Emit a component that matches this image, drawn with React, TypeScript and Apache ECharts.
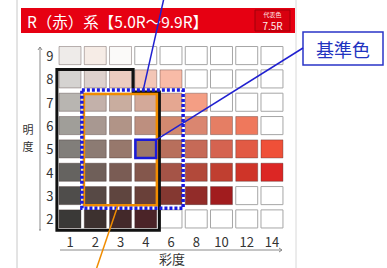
import React, { useEffect, useRef } from "react";
import * as echarts from "echarts";

// 彩度 (chroma) categories along x, 明度 (value) categories along y (bottom → top)
const CHROMA = ["1", "2", "3", "4", "6", "8", "10", "12", "14"];
const VALUE = ["2", "3", "4", "5", "6", "7", "8", "9"];

// Cell colours for each value row (columns follow CHROMA); null = empty cell
const ROW_9 = ["#eeebe9", "#f6ece6", "#fbfaf9", null, null, null, null, null, null];
const ROW_8 = ["#d5d3d1", "#ddd1cd", "#ecccc0", "#f3c6b6", "#f8bba7", null, null, null, null];
const ROW_7 = ["#b8b5b1", "#c3b1aa", "#c9ad9f", "#d3a999", "#e5a791", "#f49e84", null, null, null];
const ROW_6 = ["#a09e99", "#a89891", "#b19487", "#bd8f7f", "#d2896f", "#da8670", "#e57e64", "#ef785c", null];
const ROW_5 = ["#817e7a", "#8c7b73", "#97786c", "#9d7868", "#b86f5c", "#c66a57", "#d56350", "#e25a44", "#ef5038"];
const ROW_4 = ["#656360", "#6f5f59", "#7a5c54", "#84574c", "#a55447", "#b2493a", "#c03f30", "#cf3428", "#dc2624"];
const ROW_3 = ["#4f4d4b", "#574945", "#5f453f", "#694039", "#843831", "#922c29", "#a11c1e", null, null];
const ROW_2 = ["#3a3937", "#3d312f", "#43292a", "#4b2428", null, null, null, null, null];
const ROWS: Record<string, (string | null)[]> = {
  "2": ROW_2, "3": ROW_3, "4": ROW_4, "5": ROW_5,
  "6": ROW_6, "7": ROW_7, "8": ROW_8, "9": ROW_9,
};

// Base colour (基準色) cell
const BASE_CELL = { chroma: "4", value: "5" };

const TITLE = "R（赤）系【5.0R～9.9R】";
const BADGE_SMALL = "代表色";
const BADGE_HUE = "7.5R";
const CALLOUT = "基準色";
const X_NAME = "彩度";
const Y_NAME = ["明", "度"];

const FONT = "'Noto Sans CJK JP', 'Noto Sans', sans-serif";

export default function App() {
  const ref = useRef<HTMLDivElement>(null);

  useEffect(() => {
    if (!ref.current) return;
    const chart = echarts.init(ref.current, null, { renderer: "svg" });

    const cellData: number[][] = [];
    const cellColors: (string | null)[] = [];
    VALUE.forEach((v, yi) => {
      CHROMA.forEach((c, xi) => {
        cellData.push([xi, yi]);
        cellColors.push(ROWS[v][xi]);
      });
    });

    const cx = (c: string) => CHROMA.indexOf(c);
    const vy = (v: string) => VALUE.indexOf(v);

    const option: any = {
      animation: false,
      backgroundColor: "#ffffff",
      textStyle: { fontFamily: FONT },
      grid: { left: 57.4, top: 43.9, width: 227.2, height: 186.7, containLabel: false },
      xAxis: {
        type: "category",
        data: CHROMA,
        axisLine: { show: false },
        axisTick: { show: false },
        splitLine: { show: false },
        axisLabel: { margin: 4, fontSize: 13, lineHeight: 13, color: "#333", fontFamily: FONT },
      },
      yAxis: {
        type: "category",
        data: VALUE,
        axisLine: { show: false },
        axisTick: { show: false },
        splitLine: { show: false },
        axisLabel: { margin: 4, fontSize: 13, lineHeight: 13, color: "#333", fontFamily: FONT },
      },
      series: [
        {
          type: "custom",
          name: "cells",
          data: cellData,
          z: 2,
          renderItem: (params: any, api: any) => {
            const p = api.coord([api.value(0), api.value(1)]);
            const s = api.size([1, 1]);
            const w = s[0] * 0.87;
            const h = s[1] * 0.775;
            const col = cellColors[params.dataIndex];
            return {
              type: "rect",
              shape: { x: p[0] - w / 2, y: p[1] - h / 2, width: w, height: h },
              style: {
                fill: col ?? "#ffffff",
                stroke: col ? "rgba(60,40,40,0.35)" : "#a6a6a6",
                lineWidth: 1,
              },
            };
          },
        },
        {
          type: "custom",
          name: "annotations",
          data: [[0, 0]],
          z: 5,
          renderItem: (_params: any, api: any) => {
            const o = api.coord([0, 0]);
            const s = api.size([1, 1]);
            const px = (f: number) => o[0] + f * s[0];
            const py = (f: number) => o[1] - f * s[1];

            // black stepped frame (chroma 1–4, value 2–8)
            const black = [
              [px(cx("1") - 0.52), py(vy("8") + 0.4)],
              [px(cx("3") + 0.5), py(vy("8") + 0.4)],
              [px(cx("3") + 0.5), py(vy("7") + 0.44)],
              [px(cx("4") + 0.54), py(vy("7") + 0.44)],
              [px(cx("4") + 0.54), py(vy("2") - 0.48)],
              [px(cx("1") - 0.52), py(vy("2") - 0.48)],
            ];
            // orange frame (chroma 2–4, value 3–7)
            const oL = px(cx("2") - 0.45), oR = px(cx("4") + 0.44);
            const oT = py(vy("7") + 0.35), oB = py(vy("3") - 0.41);
            // blue dotted frame (chroma 2–6, value 3–7)
            const bL = px(cx("2") - 0.53), bR = px(cx("6") + 0.48);
            const bT = py(vy("7") + 0.52), bB = py(vy("3") - 0.54);
            // base cell
            const bc = [px(cx(BASE_CELL.chroma)), py(vy(BASE_CELL.value))];
            const bw = s[0] * 0.82, bh = s[1] * 0.78;

            return {
              type: "group",
              children: [
                {
                  type: "polygon",
                  shape: { points: black },
                  style: { fill: "none", stroke: "#111", lineWidth: 3 },
                },
                {
                  type: "rect",
                  shape: { x: oL, y: oT, width: oR - oL, height: oB - oT },
                  style: { fill: "none", stroke: "#f08c00", lineWidth: 2.5 },
                },
                {
                  type: "rect",
                  shape: { x: bL, y: bT, width: bR - bL, height: bB - bT },
                  style: { fill: "none", stroke: "#1a1ae0", lineWidth: 3.5, lineDash: [3, 2] },
                },
                {
                  type: "rect",
                  shape: { x: bc[0] - bw / 2, y: bc[1] - bh / 2, width: bw, height: bh },
                  style: { fill: "none", stroke: "#1a1ad8", lineWidth: 2.5 },
                },
                // leader: top of dotted frame up off-page
                {
                  type: "line",
                  shape: { x1: px(cx("3") + 0.9), y1: bT, x2: 164, y2: -2 },
                  style: { stroke: "#2020d0", lineWidth: 1.5 },
                },
                // leader: base cell → callout box
                {
                  type: "line",
                  shape: { x1: bc[0] + bw / 2, y1: bc[1] - bh / 2, x2: 303, y2: 48 },
                  style: { stroke: "#2020d0", lineWidth: 1.5 },
                },
                // leader: orange frame down off-page
                {
                  type: "line",
                  shape: { x1: px(cx("3") - 0.1), y1: oB, x2: 96, y2: 270 },
                  style: { stroke: "#f08c00", lineWidth: 1.5 },
                },
              ],
            };
          },
        },
      ],
      graphic: [
        // card borders
        { type: "line", shape: { x1: 17, y1: 0, x2: 17, y2: 268 }, style: { stroke: "#c8c8c8", lineWidth: 1 } },
        { type: "line", shape: { x1: 296, y1: 0, x2: 296, y2: 268 }, style: { stroke: "#d8d8d8", lineWidth: 1 } },
        // title banner
        { type: "rect", shape: { x: 21, y: 8, width: 274, height: 25 }, style: { fill: "#e60012" } },
        {
          type: "text",
          x: 27, y: 21,
          style: { text: TITLE, fill: "#ffffff", fontSize: 15.5, fontFamily: FONT, verticalAlign: "middle", align: "left" },
        },
        { type: "rect", shape: { x: 255, y: 10, width: 35, height: 21 }, style: { fill: "#d8000f", stroke: "#a0000a", lineWidth: 1 } },
        {
          type: "text", x: 272.5, y: 14.5,
          style: { text: BADGE_SMALL, fill: "#ffe6e6", fontSize: 6, lineHeight: 6, fontFamily: FONT, align: "center", verticalAlign: "middle" },
        },
        {
          type: "text", x: 272.5, y: 25,
          style: { text: BADGE_HUE, fill: "#ffecec", fontSize: 10, lineHeight: 10, fontFamily: FONT, align: "center", verticalAlign: "middle" },
        },
        // value axis arrow line
        { type: "line", shape: { x1: 40, y1: 47, x2: 40, y2: 230 }, style: { stroke: "#8a8a8a", lineWidth: 1 } },
        { type: "polyline", shape: { points: [[38, 50], [40, 47], [42, 50]] }, style: { stroke: "#8a8a8a", lineWidth: 1, fill: "none" } },
        { type: "line", shape: { x1: 39, y1: 230, x2: 41, y2: 230 }, style: { stroke: "#8a8a8a", lineWidth: 1 } },
        {
          type: "text", x: 28, y: 129,
          style: { text: Y_NAME[0], fill: "#333", fontSize: 11, lineHeight: 11, fontFamily: FONT, align: "center", verticalAlign: "middle" },
        },
        {
          type: "text", x: 28, y: 145.5,
          style: { text: Y_NAME[1], fill: "#333", fontSize: 11, lineHeight: 11, fontFamily: FONT, align: "center", verticalAlign: "middle" },
        },
        // chroma axis arrow line
        { type: "line", shape: { x1: 60, y1: 250, x2: 282, y2: 250 }, style: { stroke: "#8a8a8a", lineWidth: 1 } },
        { type: "polyline", shape: { points: [[279, 248], [282, 250], [279, 252]] }, style: { stroke: "#8a8a8a", lineWidth: 1, fill: "none" } },
        {
          type: "text", x: 172, y: 258.5,
          style: { text: X_NAME, fill: "#333", fontSize: 13, lineHeight: 13, fontFamily: FONT, align: "center", verticalAlign: "middle" },
        },
        // callout box
        { type: "rect", shape: { x: 303, y: 32, width: 80, height: 33 }, style: { fill: "#ffffff", stroke: "#2a35c8", lineWidth: 1.5 } },
        {
          type: "text", x: 343, y: 48.5,
          style: { text: CALLOUT, fill: "#2233c0", fontSize: 18, fontFamily: FONT, align: "center", verticalAlign: "middle" },
        },
      ],
    };

    chart.setOption(option);
    return () => chart.dispose();
  }, []);

  return (
    <div
      ref={ref}
      style={{ position: "fixed", left: 0, top: 0, width: 387, height: 268, background: "#fff" }}
    />
  );
}
